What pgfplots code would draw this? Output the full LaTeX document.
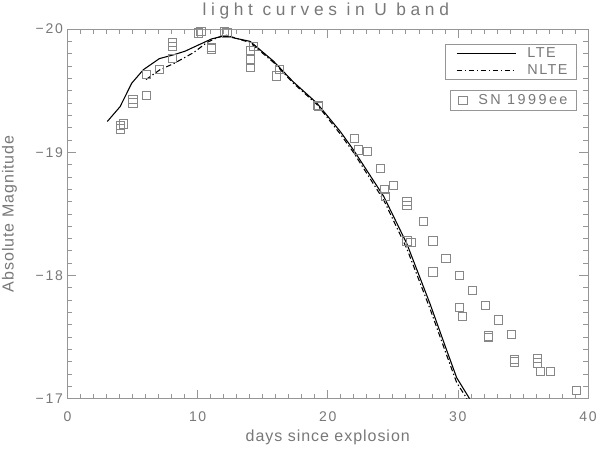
\documentclass[border=0pt]{standalone}
\usepackage{pgfplots}
\pgfplotsset{compat=1.18}
\usepackage{fontspec}
\setmainfont{Liberation Sans}
\newfontfamily\tickfont{Liberation Sans}[LetterSpace=12]
\newfontfamily\labfont{Liberation Sans}[LetterSpace=6]
\newfontfamily\titfont{Liberation Sans}[LetterSpace=27]
\newfontfamily\legfont{Liberation Sans}[LetterSpace=10]
\newfontfamily\legfontb{Liberation Sans}[LetterSpace=17]
\definecolor{axgray}{RGB}{150,150,150}
\definecolor{txtgray}{RGB}{120,120,120}
\definecolor{ptgray}{RGB}{135,135,135}

\pgfplotstableread{
x y
3.06 -19.25
4.04 -19.37
4.93 -19.56
5.83 -19.67
7.06 -19.76
8.13 -19.79
9.03 -19.82
10.05 -19.87
11.08 -19.92
11.85 -19.94
12.24 -19.94
14.03 -19.90
15.82 -19.74
17.36 -19.57
19.15 -19.40
20.95 -19.17
21.97 -19.02
24.31 -18.64
26.07 -18.26
27.86 -17.77
29.15 -17.39
29.91 -17.17
30.90 -17.00
}\lte

\pgfplotstableread{
x y
6.03 -19.59
7.11 -19.67
8.17 -19.72
9.71 -19.81
10.70 -19.89
11.50 -19.93
12.20 -19.95
14.03 -19.89
15.82 -19.73
17.36 -19.56
19.15 -19.39
20.95 -19.15
21.97 -19.00
24.31 -18.61
26.07 -18.22
27.86 -17.73
29.15 -17.35
29.91 -17.13
30.70 -17.00
}\nlte

\pgfplotstableread{
x y
4.04 -19.19
4.04 -19.22
4.29 -19.23
5.01 -19.43
5.01 -19.40
6.03 -19.63
6.03 -19.46
7.03 -19.67
8.06 -19.89
8.06 -19.86
8.06 -19.76
10.05 -19.97
10.24 -19.98
11.03 -19.85
11.03 -19.84
12.05 -19.98
12.24 -19.97
14.03 -19.83
14.03 -19.75
14.03 -19.69
14.28 -19.86
16.03 -19.62
16.28 -19.67
19.23 -19.38
19.28 -19.37
22.05 -19.11
22.35 -19.02
23.04 -19.01
24.02 -18.87
24.33 -18.70
24.40 -18.64
25.04 -18.73
26.07 -18.60
26.07 -18.57
26.07 -18.28
26.38 -18.27
27.35 -18.44
28.07 -18.28
28.07 -18.03
29.07 -18.14
30.09 -18.00
30.09 -17.74
30.32 -17.67
31.12 -17.88
32.09 -17.76
32.35 -17.51
32.35 -17.50
33.11 -17.64
34.09 -17.52
34.32 -17.32
34.32 -17.30
36.11 -17.33
36.11 -17.29
36.34 -17.22
37.09 -17.22
39.09 -17.07
}\sn

\begin{document}
\begin{tikzpicture}
\useasboundingbox (-50.6pt,-37.5pt) rectangle (399pt,298.75pt);
\begin{axis}[
  at={(0pt,0pt)}, anchor=south west,
  scale only axis, width=390pt, height=277pt,
  xmin=0, xmax=40, ymin=-20, ymax=-17, y dir=reverse,
  clip=false,
  xtick={0,10,20,30,40}, xticklabels={0,10,20,30,40},
  ytick={-20,-19,-18,-17}, yticklabels={−20,−19,−18,−17},
  minor x tick num=9, minor y tick num=9,
  tick align=inside, xtick pos=both, ytick pos=both,
  xticklabel pos=bottom, yticklabel pos=left,
  major tick length=6.5pt, minor tick length=3.5pt,
  axis line style={axgray, line width=0.5pt},
  every tick/.style={axgray, line width=0.5pt},
  tick label style={txtgray, font=\tickfont\fontsize{10.5}{12}\selectfont},
  xticklabel style={yshift=-6.5pt},
  xlabel={days since explosion}, ylabel={Absolute Magnitude},
  label style={txtgray, font=\labfont\fontsize{12}{14}\selectfont},
  xlabel style={at={(axis description cs:0.5,-0.1056)}, anchor=center},
  ylabel style={at={(axis description cs:-0.1115,0.5)}, anchor=center},
  title={light curves in U band},
  title style={txtgray, font=\titfont\fontsize{13}{15}\selectfont, at={(axis description cs:0.5,1)}, anchor=base, yshift=3.8pt, xshift=-1.5pt},
  legend style={at={(0.978,0.959)}, anchor=north east, draw=axgray, line width=0.5pt,
    fill=none, text=txtgray, font=\legfont\fontsize{10.8}{12}\selectfont,
    inner xsep=4.5pt, inner ysep=0.3pt, cells={anchor=west}},
  legend image code/.code={\path (-4pt,0pt) (50.5pt,0pt); \draw[#1] (0pt,0pt) -- (44pt,0pt);},
]
\addplot[black, line width=0.8pt, no marks] table[x=x,y=y] {\lte};
\addlegendentry{LTE}
\addplot[black, line width=0.8pt, no marks, dash pattern=on 4pt off 2pt on 1pt off 2pt] table[x=x,y=y] {\nlte};
\addlegendentry{NLTE}
\end{axis}
\begin{axis}[
  at={(0pt,0pt)}, anchor=south west,
  scale only axis, width=390pt, height=277pt,
  xmin=0, xmax=40, ymin=-20, ymax=-17, y dir=reverse,
  clip=false, hide axis,
  legend style={at={(0.978,0.835)}, anchor=north east, draw=axgray, line width=0.5pt,
    fill=none, text=txtgray, font=\legfontb\fontsize{10.8}{12}\selectfont,
    inner xsep=4.5pt, inner ysep=0.8pt, cells={anchor=west}},
  legend image code/.code={\path (-4.5pt,0pt) (9.3pt,0pt); \draw[#1] plot coordinates {(0pt,0pt)};},
]
\addplot[only marks, mark=square, mark size=3.1pt, ptgray, mark options={line width=0.5pt}] table[x=x,y=y] {\sn};
\addlegendentry{SN 1999ee}
\end{axis}
\end{tikzpicture}
\end{document}
